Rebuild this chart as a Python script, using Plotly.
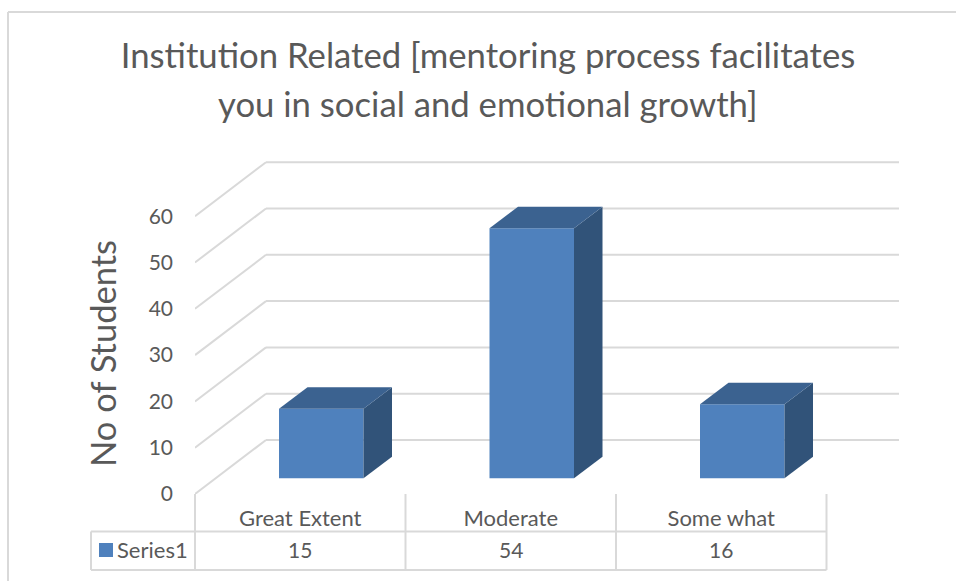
import plotly.graph_objects as go

categories = ["Great Extent", "Moderate", "Some what"]
values = [15, 54, 16]
series_name = "Series1"
y_ticks = [0, 10, 20, 30, 40, 50, 60]
title_line1 = "Institution Related [mentoring process facilitates"
title_line2 = "you in social and emotional growth]"
y_title = "No of Students"

W, H = 956, 581
FONT = "Lato"
TXT = "#595959"
GRID = "#d9d9d9"
FRONT, TOP, SIDE = "#4f81bd", "#3b6290", "#315379"

# plot geometry (pixels)
L, R, T, B = 195, 904, 150, 494
CAT_PX = 210.5
UNIT_PX = 4.63
XMIN = -0.5
XMAX = XMIN + (R - L) / CAT_PX
YMAX = (B - T) / UNIT_PX

# oblique projection, in data units
WALL_DX, WALL_DY = 71 / CAT_PX, 54 / UNIT_PX
BAR_OFF_X, BAR_OFF_Y = 21 / CAT_PX, 15.7 / UNIT_PX
BAR_W = 84.5 / CAT_PX
DEPTH_X, DEPTH_Y = 28.5 / CAT_PX, 21.5 / UNIT_PX


def px(x):
    return (x - L) / (R - L)


def py(y):
    return (B - y) / (B - T)


fig = go.Figure()

# front faces
fig.add_trace(go.Bar(
    x=[i + BAR_OFF_X for i in range(len(values))], y=values, base=BAR_OFF_Y, width=BAR_W,
    marker=dict(color=FRONT, line=dict(width=0)), name=series_name, showlegend=False,
    customdata=categories, hovertemplate="%{customdata}: %{y}<extra></extra>",
))

# side and top faces
for i, v in enumerate(values):
    x0 = i + BAR_OFF_X - BAR_W / 2
    x1 = i + BAR_OFF_X + BAR_W / 2
    y0 = BAR_OFF_Y
    y1 = BAR_OFF_Y + v
    fig.add_trace(go.Scatter(
        x=[x1, x1 + DEPTH_X, x1 + DEPTH_X, x1, x1],
        y=[y0, y0 + DEPTH_Y, y1 + DEPTH_Y, y1, y0],
        mode="lines", fill="toself", fillcolor=SIDE, line=dict(width=0, color=SIDE),
        showlegend=False, hoverinfo="skip"))
    fig.add_trace(go.Scatter(
        x=[x0, x1, x1 + DEPTH_X, x0 + DEPTH_X, x0],
        y=[y1, y1, y1 + DEPTH_Y, y1 + DEPTH_Y, y1],
        mode="lines", fill="toself", fillcolor=TOP, line=dict(width=0, color=TOP),
        showlegend=False, hoverinfo="skip"))

shapes = []
# gridlines: diagonal on the side wall, horizontal on the back wall
for t in y_ticks:
    shapes.append(dict(type="line", xref="x", yref="y", layer="below",
                       x0=XMIN, y0=t, x1=XMIN + WALL_DX, y1=t + WALL_DY,
                       line=dict(color=GRID, width=2)))
    shapes.append(dict(type="line", xref="x", yref="y", layer="below",
                       x0=XMIN + WALL_DX, y0=t + WALL_DY, x1=XMIN + (899 - L) / CAT_PX, y1=t + WALL_DY,
                       line=dict(color=GRID, width=2)))

# data table rules
TABLE_L, TABLE_MID, TABLE_B = 91, 531.5, 570
EDGES = [L + k * CAT_PX for k in range(len(categories) + 1)]


def rule(x0, y0, x1, y1):
    return dict(type="line", xref="paper", yref="paper", x0=px(x0), y0=py(y0), x1=px(x1), y1=py(y1),
                line=dict(color=GRID, width=2))


for e in EDGES:
    shapes.append(rule(e, B, e, TABLE_B))
shapes.append(rule(TABLE_L, TABLE_MID, EDGES[-1], TABLE_MID))
shapes.append(rule(TABLE_L, TABLE_B, EDGES[-1], TABLE_B))
shapes.append(rule(TABLE_L, TABLE_MID, TABLE_L, TABLE_B))
# legend key
shapes.append(dict(type="rect", xref="paper", yref="paper", x0=px(99), x1=px(113), y0=py(557), y1=py(543),
                   fillcolor=FRONT, line=dict(width=0)))
# chart border
shapes.append(rule(8, 12, W, 12))
shapes.append(rule(8, 12, 8, H))

annotations = [
    dict(xref="paper", yref="paper", x=px(115), y=py(549), text=series_name, showarrow=False,
         xanchor="left", yanchor="middle", font=dict(family=FONT, size=22, color=TXT)),
    dict(xref="paper", yref="paper", x=px(488), y=py(103), text=title_line2, showarrow=False,
         xanchor="center", yanchor="middle", font=dict(family=FONT, size=34.7, color=TXT)),
    dict(xref="paper", yref="paper", x=px(102), y=py(354), text=y_title, showarrow=False, textangle=-90,
         xanchor="center", yanchor="middle", font=dict(family=FONT, size=34.5, color=TXT)),
]
for i, v in enumerate(values):
    annotations.append(dict(xref="x", yref="paper", x=i, y=py(549), text=str(v), showarrow=False,
                            xanchor="center", yanchor="middle", font=dict(family=FONT, size=21, color=TXT)))

fig.update_layout(
    width=W, height=H, paper_bgcolor="white", plot_bgcolor="white",
    margin=dict(l=L, r=W - R, t=T, b=H - B, autoexpand=False),
    showlegend=False, barmode="overlay", shapes=shapes, annotations=annotations,
    title=dict(text=title_line1, x=488 / W, xanchor="center", y=1 - 56 / H, yanchor="middle",
               font=dict(family=FONT, size=34.7, color=TXT)),
    xaxis=dict(range=[XMIN, XMAX], tickmode="array", tickvals=list(range(len(categories))), ticktext=categories,
               showgrid=False, zeroline=False, showline=False, ticks="",
               tickfont=dict(family=FONT, size=22, color=TXT), ticklabelstandoff=9),
    yaxis=dict(range=[0, YMAX], tickmode="array", tickvals=y_ticks,
               showgrid=False, zeroline=False, showline=False, ticks="",
               tickfont=dict(family=FONT, size=21, color=TXT), ticklabelstandoff=21),
)

fig.write_html("out.html", post_script="document.body.style.margin='0';",
               config={"displayModeBar": False})
